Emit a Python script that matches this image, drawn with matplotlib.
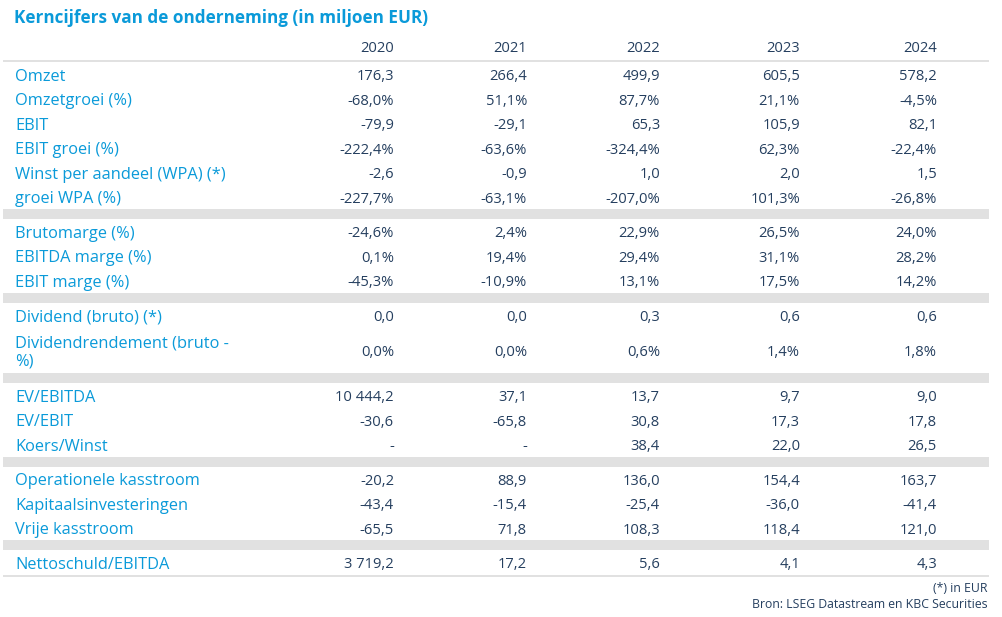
import matplotlib.pyplot as plt
import numpy as np

# kolommen en rijen van de tabel
jaren = ["2020", "2021", "2022", "2023", "2024"]

groep_resultaat = ["Omzet", "Omzetgroei (%)", "EBIT", "EBIT groei (%)",
                   "Winst per aandeel (WPA) (*)", "groei WPA (%)"]
waarden_resultaat = [
    [176.3, 266.4, 499.9, 605.5, 578.2],
    [-68.0, 51.1, 87.7, 21.1, -4.5],
    [-79.9, -29.1, 65.3, 105.9, 82.1],
    [-222.4, -63.6, -324.4, 62.3, -22.4],
    [-2.6, -0.9, 1.0, 2.0, 1.5],
    [-227.7, -63.1, -207.0, 101.3, -26.8],
]
pct_resultaat = [False, True, False, True, False, True]

groep_marges = ["Brutomarge (%)", "EBITDA marge (%)", "EBIT marge (%)"]
waarden_marges = [
    [-24.6, 2.4, 22.9, 26.5, 24.0],
    [0.1, 19.4, 29.4, 31.1, 28.2],
    [-45.3, -10.9, 13.1, 17.5, 14.2],
]
pct_marges = [True, True, True]

groep_dividend = ["Dividend (bruto) (*)", "Dividendrendement (bruto -\n%)"]
waarden_dividend = [
    [0.0, 0.0, 0.3, 0.6, 0.6],
    [0.0, 0.0, 0.6, 1.4, 1.8],
]
pct_dividend = [False, True]

groep_waardering = ["EV/EBITDA", "EV/EBIT", "Koers/Winst"]
waarden_waardering = [
    [10444.2, 37.1, 13.7, 9.7, 9.0],
    [-30.6, -65.8, 30.8, 17.3, 17.8],
    [None, None, 38.4, 22.0, 26.5],
]
pct_waardering = [False, False, False]

groep_kasstroom = ["Operationele kasstroom", "Kapitaalsinvesteringen", "Vrije kasstroom"]
waarden_kasstroom = [
    [-20.2, 88.9, 136.0, 154.4, 163.7],
    [-43.4, -15.4, -25.4, -36.0, -41.4],
    [-65.5, 71.8, 108.3, 118.4, 121.0],
]
pct_kasstroom = [False, False, False]

groep_schuld = ["Nettoschuld/EBITDA"]
waarden_schuld = [[3719.2, 17.2, 5.6, 4.1, 4.3]]
pct_schuld = [False]

groepen = [
    (groep_resultaat, waarden_resultaat, pct_resultaat),
    (groep_marges, waarden_marges, pct_marges),
    (groep_dividend, waarden_dividend, pct_dividend),
    (groep_waardering, waarden_waardering, pct_waardering),
    (groep_kasstroom, waarden_kasstroom, pct_kasstroom),
    (groep_schuld, waarden_schuld, pct_schuld),
]

BLAUW = "#0a9ad9"
DONKER = "#253f5f"
GRIJS = "#e1e1e1"


def formatteer(v, pct):
    if v is None:
        return "-"
    s = f"{v:,.1f}".replace(",", " ").replace(".", ",")
    return s + "%" if pct else s


plt.rcParams['font.family'] = ['Open Sans', 'DejaVu Sans']

fig = plt.figure(figsize=(10.02, 6.17), dpi=100)
ax = fig.add_axes([0, 0, 1, 1])
ax.set_xlim(0, 1002)
ax.set_ylim(617, 0)
ax.axis("off")

links, rechts = 3, 989
kol_x = [394, 527, 660, 800, 937]
fs_lab = 11.8
fs_val = 10.6
dy = 2.5  # tekst iets lager dan het midden van de rij

ax.text(14, 18, "Kerncijfers van de onderneming (in miljoen EUR)", color=BLAUW,
        fontsize=12.3, fontweight="bold", va="center", ha="left")

for x, j in zip(kol_x, jaren):
    ax.text(x, 49, j, color=DONKER, fontsize=fs_val, ha="right", va="center")
ax.fill_between([links, rechts], 59.5, 62, color=GRIJS, lw=0)

y = 62
rij_h = 24.5
for gi, (labels, waarden, pcts) in enumerate(groepen):
    for lab, rij, pct in zip(labels, waarden, pcts):
        h = 46 if "\n" in lab else rij_h
        yc = y + h / 2 + dy
        ax.text(15, yc, lab, color=BLAUW, fontsize=fs_lab, ha="left", va="center",
                linespacing=1.2)
        for x, v in zip(kol_x, rij):
            ax.text(x, yc, formatteer(v, pct), color=DONKER, fontsize=fs_val,
                    ha="right", va="center")
        y += h
    if gi < len(groepen) - 1:
        ax.fill_between([links, rechts], y, y + 10, color=GRIJS, lw=0)
        y += 10
    else:
        ax.fill_between([links, rechts], y, y + 2.5, color=GRIJS, lw=0)

ax.text(988, 589, "(*) in EUR", color=DONKER, fontsize=8.8, ha="right", va="center")
ax.text(988, 605, "Bron: LSEG Datastream en KBC Securities", color=DONKER,
        fontsize=8.8, ha="right", va="center")

fig.savefig("out.png", dpi=100, facecolor="white")
